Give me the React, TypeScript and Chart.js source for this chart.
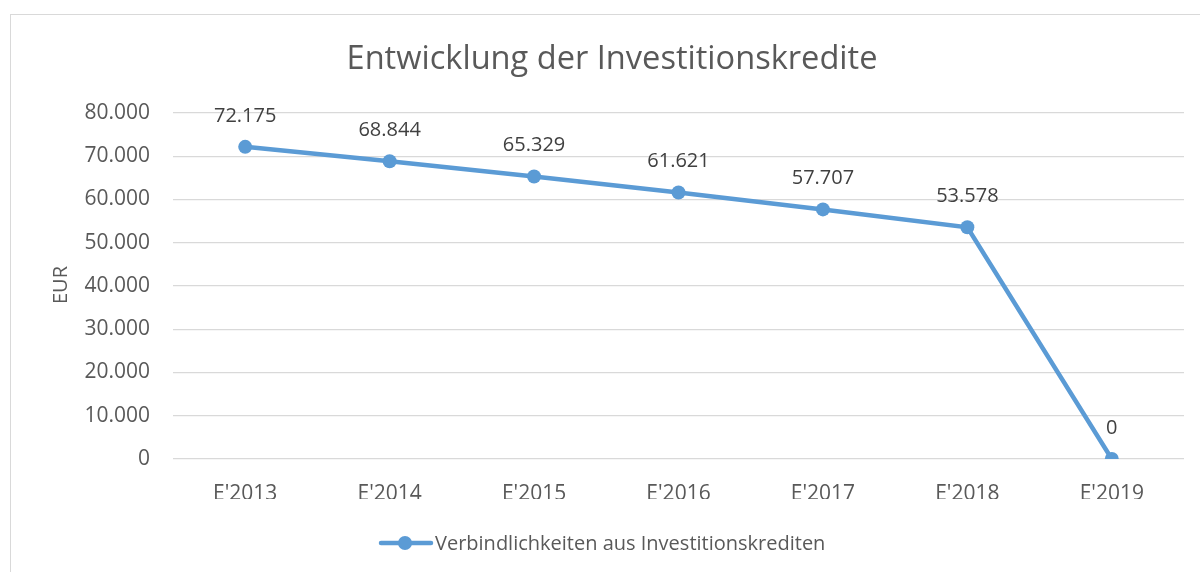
import React, { useEffect, useRef } from "react";
import { Chart, registerables } from "chart.js";

Chart.register(...registerables);

const categories = ["E'2013", "E'2014", "E'2015", "E'2016", "E'2017", "E'2018", "E'2019"];
const seriesValues = [72175, 68844, 65329, 61621, 57707, 53578, 0];
const seriesName = "Verbindlichkeiten aus Investitionskrediten";
const chartTitle = "Entwicklung der Investitionskredite";
const yAxisTitle = "EUR";
const yTickValues = [0, 10000, 20000, 30000, 40000, 50000, 60000, 70000, 80000];

const FONT = "'Open Sans', 'Noto Sans', sans-serif";
const LINE_COLOR = "#5B9BD5";
const TEXT_COLOR = "#595959";

const fmt = (v: number) => {
  const s = Math.round(v).toString();
  return s.replace(/\B(?=(\d{3})+(?!\d))/g, ".");
};

const decorPlugin = {
  id: "decor",
  afterDatasetsDraw(chart: any) {
    const ctx = chart.ctx;
    ctx.save();
    // title
    ctx.fillStyle = TEXT_COLOR;
    ctx.font = `32.6px ${FONT}`;
    ctx.textAlign = "center";
    ctx.textBaseline = "alphabetic";
    ctx.fillText(chartTitle, 612, 69);
    // y axis title
    ctx.save();
    ctx.translate(67, 285);
    ctx.rotate(-Math.PI / 2);
    ctx.font = `20px ${FONT}`;
    ctx.textAlign = "center";
    ctx.fillText(yAxisTitle, 0, 0);
    ctx.restore();
    // data labels
    const meta = chart.getDatasetMeta(0);
    ctx.fillStyle = "#404040";
    ctx.font = `20px ${FONT}`;
    ctx.textAlign = "center";
    meta.data.forEach((pt: any, i: number) => {
      ctx.fillText(fmt(seriesValues[i]), pt.x, pt.y - 25);
    });
    // legend
    ctx.strokeStyle = LINE_COLOR;
    ctx.lineWidth = 4.5;
    ctx.lineCap = "round";
    ctx.beginPath();
    ctx.moveTo(381, 543);
    ctx.lineTo(431, 543);
    ctx.stroke();
    ctx.fillStyle = LINE_COLOR;
    ctx.beginPath();
    ctx.arc(405, 543, 7, 0, Math.PI * 2);
    ctx.fill();
    ctx.fillStyle = TEXT_COLOR;
    ctx.font = `20px ${FONT}`;
    ctx.textAlign = "left";
    ctx.fillText(seriesName, 435, 550);
    ctx.restore();
  },
};

export default function App() {
  const ref = useRef<HTMLCanvasElement>(null);
  useEffect(() => {
    if (!ref.current) return;
    const chart = new Chart(ref.current, {
      type: "line",
      data: {
        labels: categories,
        datasets: [
          {
            label: seriesName,
            data: seriesValues,
            borderColor: LINE_COLOR,
            backgroundColor: LINE_COLOR,
            borderWidth: 4.5,
            pointRadius: 7,
            pointBackgroundColor: LINE_COLOR,
            pointBorderWidth: 0,
            tension: 0,
          },
        ],
      },
      options: {
        responsive: false,
        animation: false,
        layout: { padding: { left: 63, right: 16, top: 113, bottom: 73 } },
        plugins: {
          legend: { display: false },
          title: { display: false },
          tooltip: { enabled: false },
        },
        scales: {
          x: {
            offset: true,
            grid: { display: false },
            border: { display: false },
            ticks: { color: TEXT_COLOR, font: { family: FONT, size: 21 }, padding: 14 },
            afterFit: (s: any) => {
              s.height = 40;
            },
          },
          y: {
            min: 0,
            max: 80000,
            afterBuildTicks: (s: any) => {
              s.ticks = yTickValues.map((v) => ({ value: v }));
            },
            grid: { color: "#d9d9d9", lineWidth: 1.3, drawTicks: false },
            border: { display: false },
            ticks: {
              color: TEXT_COLOR,
              font: { family: FONT, size: 21 },
              padding: 23,
              callback: (v: any) => fmt(Number(v)),
            },
            afterFit: (s: any) => {
              s.width = 110;
            },
          },
        },
      },
      plugins: [decorPlugin],
    });
    return () => chart.destroy();
  }, []);
  return (
    <div style={{ position: "fixed", left: 0, top: 0, width: 1200, height: 572, background: "#fff" }}>
      <div
        style={{
          position: "absolute",
          left: 10,
          top: 14,
          width: 1300,
          height: 700,
          border: "1px solid #d9d9d9",
        }}
      />
      <canvas ref={ref} width={1200} height={572} style={{ position: "absolute", left: 0, top: 0 }} />
    </div>
  );
}
